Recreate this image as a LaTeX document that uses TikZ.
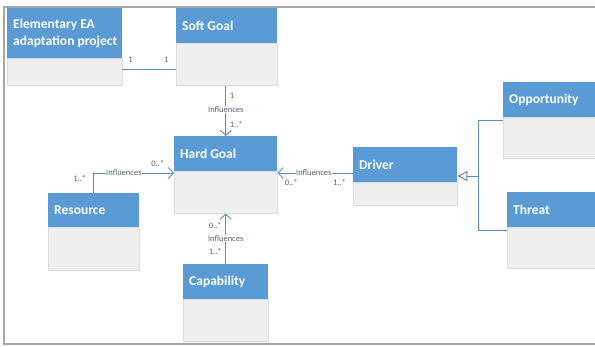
\documentclass[tikz,border=0pt]{standalone}
\usepackage{fontspec}
\setmainfont{Carlito}
\usetikzlibrary{arrows.meta}

\definecolor{hdrblue}{HTML}{5B9BD5}
\definecolor{bodygray}{HTML}{EFEFEF}
\definecolor{bodyline}{HTML}{D9DCE0}
\definecolor{linkblue}{HTML}{5A8CC0}
\definecolor{labelgray}{HTML}{56657A}
\definecolor{framegray}{HTML}{A6A6A6}

\tikzset{
  headbox/.style={fill=hdrblue, draw=none, anchor=north west, inner sep=0pt},
  bodybox/.style={fill=bodygray, draw=bodyline, line width=0.6pt, anchor=north west, inner sep=0pt},
  headtext/.style={anchor=west, text=white, font=\fontsize{13.5}{17}\selectfont\bfseries, align=left, inner sep=0pt},
  link/.style={draw=linkblue, line width=1pt},
  assoc/.style={link, -{Straight Barb[length=5pt,width=11pt,line width=0.9pt]}},
  gentip/.style={link, -{Triangle[open,length=10pt,width=10pt,fill=white]}},
  mult/.style={text=labelgray, font=\fontsize{8.5}{10}\selectfont, inner sep=0.5pt},
  rolename/.style={mult, fill=white},
  frame/.style={draw=framegray, line width=1.3pt}
}

% class box: name, x, y, width, header height, body height, title
\newcommand\umlclass[7]{%
  \node[bodybox, minimum width=#4pt, minimum height=#6pt] (#1-b) at (#2,#3+#5) {};
  \node[headbox, minimum width=#4pt, minimum height=#5pt] (#1) at (#2,#3) {};
  \node[headtext] (#1-t) at ([xshift=6pt]#1.west) {#7};
}

\begin{document}
\begin{tikzpicture}[x=1pt, y=-1pt]
\useasboundingbox (0,0) rectangle (595,346);

% outer frame (open on the right)
\draw[frame] (597,7) -- (4,7) -- (4,344) -- (597,344);

% classes
\umlclass{ea}{7}{8}{115}{50}{27}{Elementary EA\\adaptation project}
\umlclass{sg}{176}{8}{101}{35}{42}{Soft Goal}
\umlclass{hg}{174}{136}{103}{35}{42}{Hard Goal}
\umlclass{rs}{48}{193}{91}{34}{43}{Resource}
\umlclass{cp}{183}{264}{85}{35}{42}{Capability}
\umlclass{dr}{353}{147}{104}{35}{23}{Driver}
\umlclass{op}{503}{82}{92}{35}{41}{Opportunity}
\umlclass{th}{507}{192}{88}{35}{41}{Threat}

% Elementary EA adaptation project -- Soft Goal
\draw[link] ([yshift=-11pt]ea.south east) -- ([yshift=-11pt]ea.south east -| sg.west)
  node[mult, pos=0.15, above=6pt] (m-ea) {1}
  node[mult, pos=0.82, above=6pt] (m-sg) {1};

% Soft Goal influences Hard Goal
\draw[assoc] ([xshift=-1pt]sg-b.south) -- ([xshift=-1pt]sg-b.south |- hg.north)
  node[mult, pos=0.2, right=3pt] (m-sg1) {1}
  node[rolename, pos=0.47] (r-sg) {Influences}
  node[mult, pos=0.78, right=3pt] (m-hg1) {1..*};

% Driver influences Hard Goal
\coordinate (drin) at ([yshift=-2pt]hg-b.north east);
\draw[assoc] (drin -| dr.west) -- (drin)
  node[rolename, pos=0.52] (r-dr) {Influences}
  node[mult, pos=0.18, below=5pt] (m-dr) {1..*}
  node[mult, pos=0.82, below=5pt] (m-hg2) {0..*};

% Resource influences Hard Goal
\coordinate (rsin) at ([yshift=-2pt]hg-b.north west);
\draw[assoc] ([xshift=-0.5pt]rs.north) |- (rsin)
  node[rolename, pos=0.69] (r-rs) {Influences}
  node[mult, pos=0.35, left=6pt] (m-rs) {1..*}
  node[mult, pos=0.9, above=5pt] (m-hg3) {0..*};

% Capability influences Hard Goal
\draw[assoc] (cp.north) -- (cp.north |- hg-b.south)
  node[mult, pos=0.25, left=3pt] (m-cp) {1..*}
  node[rolename, pos=0.5] (r-cp) {Influences}
  node[mult, pos=0.76, left=3pt] (m-hg4) {0..*};

% Opportunity and Threat specialise Driver
\coordinate (gen) at (478,176);
\draw[link] ([yshift=-3pt]op-b.north west) -| (gen);
\draw[link] ([yshift=-3pt]th-b.north west) -| (gen);
\draw[gentip] (gen) -- (gen -| dr.east);
\end{tikzpicture}
\end{document}
